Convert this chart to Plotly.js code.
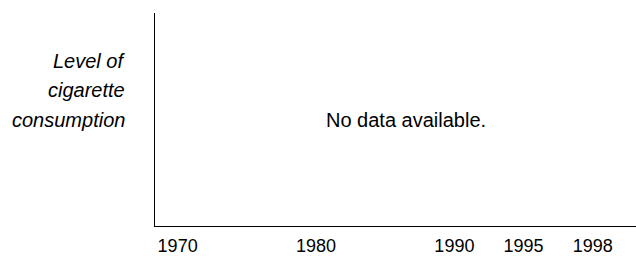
<!DOCTYPE html>
<html>
<head>
<meta charset="utf-8">
<script src="https://cdn.plot.ly/plotly-3.0.1.min.js"></script>
<style>html,body{margin:0;padding:0;background:#fff;}#chart{width:636px;height:256px;}</style>
</head>
<body>
<div id="chart"></div>
<script>
// Year slots on the horizontal axis (half-decade slots, last one labelled 1998)
var years = ['1970', '1975', '1980', '1985', '1990', '1995', '1998'];
// Tick labels shown on the axis
var tickLabels = ['1970', '1980', '1990', '1995', '1998'];
// Cigarette consumption: no data available
var consumption = [null, null, null, null, null, null, null];
// Y-axis title lines
var yTitleLines = ['Level of', 'cigarette', 'consumption'];
var noDataText = 'No data available.';

var FONT = 'Liberation Sans, Arial, Helvetica, sans-serif';

var trace = {
  x: years,
  y: consumption,
  type: 'scatter',
  mode: 'lines',
  line: {color: '#000', width: 1},
  hoverinfo: 'skip',
  showlegend: false
};

var titleY = [0.776, 0.638, 0.497];
var annotations = yTitleLines.map(function (t, i) {
  return {
    text: t, xref: 'paper', yref: 'paper', x: -0.058, y: titleY[i],
    xanchor: 'right', yanchor: 'middle', showarrow: false,
    font: {family: FONT, size: 20, color: '#000', style: 'italic'}
  };
});
annotations.push({
  text: noDataText, xref: 'paper', yref: 'paper', x: 0.521, y: 0.5,
  xanchor: 'center', yanchor: 'middle', showarrow: false,
  font: {family: FONT, size: 20, color: '#000'}
});

var layout = {
  width: 636, height: 256,
  margin: {l: 155, r: 0, t: 13, b: 30, pad: 0},
  paper_bgcolor: '#fff', plot_bgcolor: '#fff',
  font: {family: FONT, size: 18, color: '#000'},
  showlegend: false,
  xaxis: {
    type: 'category',
    categoryorder: 'array', categoryarray: years,
    range: [-0.327, 6.625],
    tickmode: 'array', tickvals: tickLabels, ticktext: tickLabels,
    ticks: '', showgrid: false, zeroline: false,
    showline: true, linecolor: '#000', linewidth: 1,
    ticklabelstandoff: 3,
    tickfont: {family: FONT, size: 18, color: '#000'},
    fixedrange: true
  },
  yaxis: {
    range: [0, 1],
    showticklabels: false, ticks: '', showgrid: false, zeroline: false,
    showline: true, linecolor: '#000', linewidth: 1,
    fixedrange: true
  },
  annotations: annotations
};

Plotly.newPlot('chart', [trace], layout, {staticPlot: true, displayModeBar: false});
</script>
</body>
</html>
